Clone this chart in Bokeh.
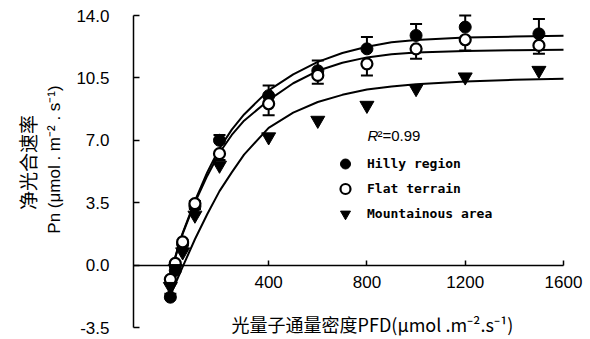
from math import pi
from bokeh.plotting import figure
from bokeh.models import (ColumnDataSource, Whisker, TeeHead, FixedTicker,
                          PrintfTickFormatter, Label, Legend, LegendItem, Range1d)
from bokeh.embed import file_html
from bokeh.resources import INLINE

# ---- data ----
pfd = [0, 20, 50, 100, 200, 400, 600, 800, 1000, 1200, 1500]
hilly = [-1.8, -0.3, 1.2, 3.3, 7.0, 9.5, 10.9, 12.13, 12.88, 13.35, 12.97]
hilly_err = [0.2, 0.2, 0.2, 0.3, 0.3, 0.58, 0.58, 0.67, 0.65, 0.65, 0.83]
flat = [-0.8, 0.1, 1.3, 3.45, 6.25, 9.05, 10.64, 11.29, 12.13, 12.64, 12.32]
flat_err = [0.2, 0.2, 0.2, 0.3, 0.35, 0.65, 0.47, 0.65, 0.56, 0.6, 0.46]
mountain = [-1.2, -0.2, 0.74, 2.8, 5.6, 7.19, 8.12, 8.96, 9.9, 10.55, 10.92]

# fitted curves
curve_pfd = [0, 25, 50, 100, 150, 200, 250, 300, 400, 500, 600, 700, 800, 900, 1000, 1200, 1400, 1600]
hilly_fit = [-0.5, 0.7, 1.8, 3.6, 5.2, 6.55, 7.6, 8.45, 9.8, 10.7, 11.4, 11.9, 12.25, 12.5, 12.63, 12.76, 12.82, 12.86]
flat_fit = [-0.5, 0.65, 1.75, 3.5, 5.0, 6.3, 7.3, 8.1, 9.25, 10.2, 10.9, 11.35, 11.65, 11.83, 11.93, 12.01, 12.05, 12.08]
mountain_fit = [-1.7, -0.9, -0.1, 1.45, 2.85, 4.15, 5.2, 6.2, 7.7, 8.55, 9.15, 9.55, 9.85, 10.02, 10.14, 10.3, 10.39, 10.45]

x_ticks = [400, 800, 1200, 1600]
y_ticks = [-3.5, 0.0, 3.5, 7.0, 10.5, 14.0]
x_bounds = (-150, 1600)
y_bounds = (-3.5, 14.0)
series_names = ["Hilly region", "Flat terrain", "Mountainous area"]
r2_text = "0.99"

# frame fills the whole canvas; axes are pinned at their reference positions
W, H = 590, 339
FRAME_L, FRAME_R, FRAME_T, FRAME_B = 133, 563, 15, 327   # pixel edges of the axis box
sx = (x_bounds[1] - x_bounds[0]) / (FRAME_R - FRAME_L)
sy = (y_bounds[1] - y_bounds[0]) / (FRAME_B - FRAME_T)
x_range = Range1d(x_bounds[0] - FRAME_L * sx, x_bounds[1] + (W - FRAME_R) * sx)
y_range = Range1d(y_bounds[0] - (H - FRAME_B) * sy, y_bounds[1] + FRAME_T * sy)

p = figure(width=W, height=H, x_range=x_range, y_range=y_range,
           output_backend="svg", toolbar_location=None,
           min_border_left=0, min_border_right=0, min_border_top=0, min_border_bottom=0)
p.grid.visible = False
p.outline_line_color = None
p.background_fill_color = "white"

xa = p.xaxis[0]
xa.fixed_location = 0
xa.bounds = x_bounds
xa.ticker = FixedTicker(ticks=x_ticks)
xa.major_tick_in = 5
xa.major_tick_out = 0
xa.minor_tick_line_color = None
xa.axis_line_width = 1.5
xa.major_tick_line_width = 1.5
xa.major_label_text_font = "Liberation Sans"
xa.major_label_text_font_size = "17px"
xa.major_label_text_color = "black"
xa.major_label_standoff = 11

ya = p.yaxis[0]
ya.fixed_location = x_bounds[0]
ya.bounds = y_bounds
ya.ticker = FixedTicker(ticks=y_ticks)
ya.formatter = PrintfTickFormatter(format="%.1f")
ya.major_tick_in = 6
ya.major_tick_out = 0
ya.minor_tick_line_color = None
ya.axis_line_width = 1.5
ya.major_tick_line_width = 1.5
ya.major_label_text_font = "Liberation Sans"
ya.major_label_text_font_size = "17px"
ya.major_label_text_color = "black"
ya.major_label_standoff = 24

# curves
for fit in (hilly_fit, flat_fit, mountain_fit):
    p.line(curve_pfd, fit, line_color="black", line_width=2)

src_h = ColumnDataSource(dict(x=pfd, y=hilly, upper=[v + e for v, e in zip(hilly, hilly_err)]))
src_f = ColumnDataSource(dict(x=pfd, y=flat, lower=[v - e for v, e in zip(flat, flat_err)]))
src_m = ColumnDataSource(dict(x=pfd, y=mountain))

p.add_layout(Whisker(source=src_h, base="x", upper="upper", lower="y",
                     upper_head=TeeHead(size=12, line_width=2, line_color="black"),
                     lower_head=None, line_width=2, line_color="black"))
p.add_layout(Whisker(source=src_f, base="x", upper="y", lower="lower",
                     lower_head=TeeHead(size=12, line_width=2, line_color="black"),
                     upper_head=None, line_width=2, line_color="black"))

r_h = p.scatter("x", "y", source=src_h, marker="circle", size=12,
                fill_color="black", line_color="black")
r_f = p.scatter("x", "y", source=src_f, marker="circle", size=11,
                fill_color="white", line_color="black", line_width=2.2)
r_m = p.scatter("x", "y", source=src_m, marker="inverted_triangle", size=14,
                fill_color="black", line_color="black")

legend = Legend(items=[LegendItem(label=series_names[0], renderers=[r_h]),
                       LegendItem(label=series_names[1], renderers=[r_f]),
                       LegendItem(label=series_names[2], renderers=[r_m])],
                location=(330, 113), glyph_width=30, glyph_height=25, label_height=25,
                spacing=0, padding=0, margin=0, border_line_color=None,
                background_fill_alpha=0, label_standoff=7,
                label_text_font="DejaVu Sans Mono", label_text_font_size="13px",
                label_text_font_style="bold", label_text_color="black")
p.add_layout(legend)

p.add_layout(Label(x=367, y=204, x_units="screen", y_units="screen", text="R",
                   text_font="Liberation Sans", text_font_style="italic",
                   text_font_size="15px", text_baseline="middle", text_align="left",
                   text_color="black"))
p.add_layout(Label(x=377, y=204, x_units="screen", y_units="screen", text="²=" + r2_text,
                   text_font="Liberation Sans", text_font_size="15px",
                   text_baseline="middle", text_align="left", text_color="black"))

p.add_layout(Label(x=27, y=177, x_units="screen", y_units="screen", text="净光合速率",
                   angle=pi / 2, text_align="center", text_baseline="middle",
                   text_font="Noto Sans CJK SC", text_font_size="19px", text_color="black"))
p.add_layout(Label(x=54, y=180, x_units="screen", y_units="screen",
                   text="Pn (μmol . m⁻² . s⁻¹)",
                   angle=pi / 2, text_align="center", text_baseline="middle",
                   text_font="Liberation Sans", text_font_size="17px", text_color="black"))
p.add_layout(Label(x=372, y=16, x_units="screen", y_units="screen",
                   text="光量子通量密度PFD(μmol .m⁻².s⁻¹)",
                   text_align="center", text_baseline="middle",
                   text_font="Noto Sans CJK SC", text_font_size="18px", text_color="black"))

open("out.html", "w").write(file_html(p, INLINE))
